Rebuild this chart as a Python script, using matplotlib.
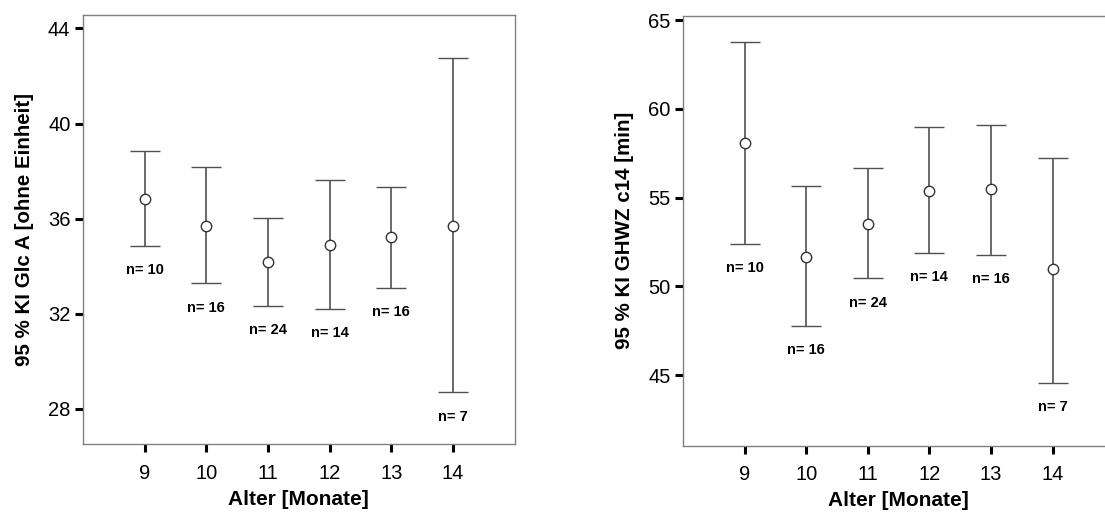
import numpy as np
import matplotlib
matplotlib.use("Agg")
import matplotlib.pyplot as plt

plt.rcParams['font.family'] = ['Liberation Sans', 'DejaVu Sans']

# Alter in Monaten
alter = [9, 10, 11, 12, 13, 14]
n_werte = [10, 16, 24, 14, 16, 7]

# Glc A: Mittelwert und 95 % KI
glc_mittel = [36.83, 35.69, 34.18, 34.89, 35.24, 35.69]
glc_unten = [34.85, 33.27, 32.34, 32.20, 33.09, 28.69]
glc_oben = [38.86, 38.19, 36.04, 37.61, 37.34, 42.75]

# GHWZ c14: Mittelwert und 95 % KI
ghwz_mittel = [58.08, 51.67, 53.53, 55.38, 55.50, 50.98]
ghwz_unten = [52.39, 47.76, 50.44, 51.88, 51.79, 44.57]
ghwz_oben = [63.78, 55.65, 56.66, 59.00, 59.10, 57.24]

fig = plt.figure(figsize=(11.05, 5.15), dpi=100)
ax1 = fig.add_axes([0.0751, 0.1373, 0.3907, 0.8342])
ax2 = fig.add_axes([0.6181, 0.1340, 0.3902, 0.8355])


def fehlerbalken(ax, mittel, unten, oben, yticks, ylim, ylabel):
    mittel = np.array(mittel)
    err = [mittel - np.array(unten), np.array(oben) - mittel]
    ax.errorbar(alter, mittel, yerr=err, fmt='o', color='#505050', ecolor='#505050',
                elinewidth=1.2, capsize=11, capthick=1.2, markersize=7.5,
                markerfacecolor='white', markeredgecolor='#333333', markeredgewidth=1.0)
    for x, lo, n in zip(alter, unten, n_werte):
        ax.annotate(f"n= {n}", xy=(x, lo), xytext=(0, -17.5), textcoords='offset points',
                    ha='center', va='center', fontsize=10.5, fontweight='bold')
    ax.set_xlim(8, 15)
    ax.set_ylim(*ylim)
    ax.set_xticks(alter)
    ax.set_yticks(yticks)
    ax.tick_params(direction='out', length=6, width=2.2, color='black', labelsize=14.5, pad=3)
    ax.tick_params(axis='x', pad=8)
    for s in ax.spines.values():
        s.set_color('#808080')
        s.set_linewidth(1.0)
    ax.set_xlabel('Alter [Monate]', fontsize=15, fontweight='bold', labelpad=5)
    ax.set_ylabel(ylabel, fontsize=14.8, fontweight='bold', labelpad=10)


fehlerbalken(ax1, glc_mittel, glc_unten, glc_oben, [28, 32, 36, 40, 44], (26.5, 44.58),
             '95 % KI Glc A [ohne Einheit]')
fehlerbalken(ax2, ghwz_mittel, ghwz_unten, ghwz_oben, [45, 50, 55, 60, 65], (41.0, 65.25),
             '95 % KI GHWZ c14 [min]')

plt.savefig('out.png', dpi=100)
